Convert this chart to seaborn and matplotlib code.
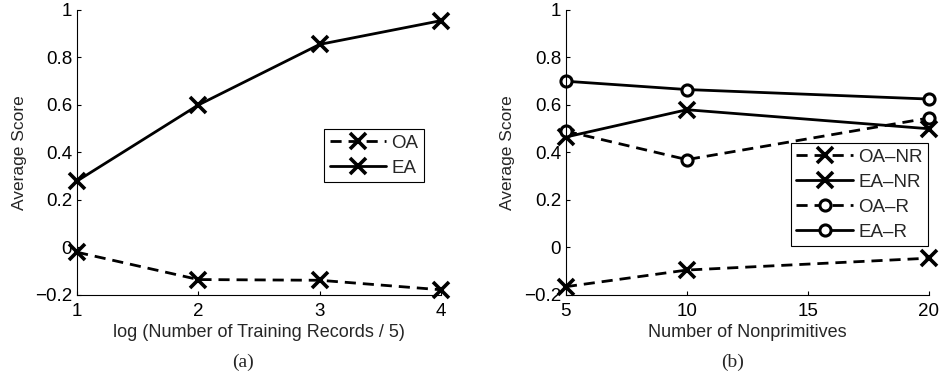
import numpy as np
import pandas as pd
import seaborn as sns
import matplotlib
matplotlib.use("Agg")
import matplotlib.pyplot as plt

# panel (a)
rec_x = [1, 2, 3, 4]
oa = [-0.02, -0.135, -0.138, -0.178]
ea = [0.28, 0.60, 0.855, 0.955]

# panel (b)
nonprim_x = [5, 10, 20]
oa_nr = [-0.165, -0.095, -0.045]
ea_nr = [0.465, 0.58, 0.50]
oa_r = [0.49, 0.37, 0.545]
ea_r = [0.70, 0.665, 0.625]

sns.set_style("ticks")
plt.rcParams['font.family'] = ['Liberation Sans', 'DejaVu Sans']
plt.rcParams['xtick.direction'] = 'in'
plt.rcParams['ytick.direction'] = 'in'

fig = plt.figure(figsize=(9.4, 3.78), dpi=100)
ax1 = fig.add_axes([0.082, 0.2196, 0.387, 0.754])
ax2 = fig.add_axes([0.602, 0.2196, 0.386, 0.754])

dashed = (0, (4, 2.5))
xkw = dict(marker='x', markersize=11, markeredgewidth=2.6, markeredgecolor='black',
           color='black', linewidth=2)
okw = dict(marker='o', markersize=8, markeredgewidth=2.2, markerfacecolor='white',
           markeredgecolor='black', color='black', linewidth=2)

df_a = pd.DataFrame({'x': rec_x, 'OA': oa, 'EA': ea})
sns.lineplot(data=df_a, x='x', y='OA', ax=ax1, label='OA', linestyle=dashed, **xkw)
sns.lineplot(data=df_a, x='x', y='EA', ax=ax1, label='EA', linestyle='-', **xkw)

df_b = pd.DataFrame({'x': nonprim_x, 'OA-NR': oa_nr, 'EA-NR': ea_nr, 'OA-R': oa_r, 'EA-R': ea_r})
sns.lineplot(data=df_b, x='x', y='OA-NR', ax=ax2, label='OA\u2013NR', linestyle=dashed, **xkw)
sns.lineplot(data=df_b, x='x', y='EA-NR', ax=ax2, label='EA\u2013NR', linestyle='-', **xkw)
sns.lineplot(data=df_b, x='x', y='OA-R', ax=ax2, label='OA\u2013R', linestyle=dashed, **okw)
sns.lineplot(data=df_b, x='x', y='EA-R', ax=ax2, label='EA\u2013R', linestyle='-', **okw)

yticks = [-0.2, 0, 0.2, 0.4, 0.6, 0.8, 1]
ylabels = ['\u22120.2', '0', '0.2', '0.4', '0.6', '0.8', '1']
for ax in (ax1, ax2):
    ax.set_ylim(-0.2, 1)
    ax.set_yticks(yticks)
    ax.set_yticklabels(ylabels)
    ax.set_ylabel('Average Score', fontsize=12.5, labelpad=6)
    ax.tick_params(labelsize=13.5, length=3, width=0.8, colors='black')
    ax.tick_params(axis='x', pad=6)
    for s in ('top', 'right'):
        ax.spines[s].set_visible(False)
    for s in ('left', 'bottom'):
        ax.spines[s].set_linewidth(0.8)
        ax.spines[s].set_color('black')
    for ln in ax.lines:
        ln.set_clip_on(False)

ax1.set_xlim(1, 4)
ax1.set_xticks([1, 2, 3, 4])
ax1.set_xlabel('log (Number of Training Records / 5)', fontsize=13, labelpad=3)
ax2.set_xlim(5, 20)
ax2.set_xticks([5, 10, 15, 20])
ax2.set_xlabel('Number of Nonprimitives', fontsize=13, labelpad=3)

leg_kw = dict(frameon=True, fancybox=False, edgecolor='black', framealpha=1,
              fontsize=13.5, handlelength=3.0, handletextpad=0.3, borderpad=0.3,
              labelspacing=0.42, borderaxespad=0)
lg1 = ax1.legend(loc='upper left', bbox_to_anchor=(0.679, 0.582), **leg_kw)
lg2 = ax2.legend(loc='upper left', bbox_to_anchor=(0.62, 0.533), **leg_kw)
for lg in (lg1, lg2):
    lg.get_frame().set_linewidth(0.8)

fig.text(0.258, 0.042, '(a)', ha='center', va='center', fontsize=14, family='Liberation Serif')
fig.text(0.779, 0.042, '(b)', ha='center', va='center', fontsize=14, family='Liberation Serif')

fig.savefig('out.png', dpi=100)
